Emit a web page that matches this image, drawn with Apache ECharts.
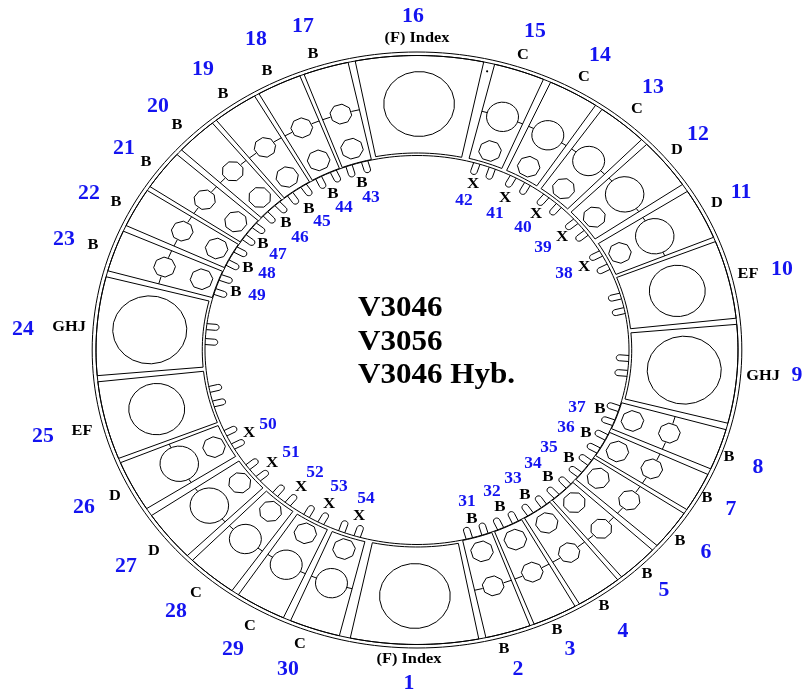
<!DOCTYPE html>
<html>
<head>
<meta charset="utf-8">
<style>html,body{margin:0;padding:0;background:#fff}#c{width:803px;height:693px}</style>
<script src="https://cdn.jsdelivr.net/npm/echarts@6/dist/echarts.min.js"></script>
</head>
<body>
<div id="c"></div>
<script>
// Segment numbers 1..30 and their type
const segmentIds = [1,2,3,4,5,6,7,8,9,10,11,12,13,14,15,16,17,18,19,20,21,22,23,24,25,26,27,28,29,30];
const segmentTypes = ['F','B','B','B','B','B','B','B','GHJ','EF','D','D','C','C','C','F','B','B','B','B','B','B','B','GHJ','EF','D','D','C','C','C'];
// Angular extent of each segment, degrees clockwise from the top
const segmentStart = [168.9,159.4,150.5,141.3,132.8,123.7,115.0,105.7,85.0,68.4,57.4,45.7,35.2,24.6,14.0,-11.1,-20.6,-29.5,-38.7,-47.2,-56.3,-65.0,-74.4,-95.0,-111.6,-122.6,-134.3,-144.8,-155.4,-166.0];
const segmentEnd   = [192.0,167.6,158.6,149.6,140.4,131.6,122.8,113.8,104.4,83.8,67.5,55.8,44.4,33.8,23.2,12.0,-12.4,-21.4,-30.4,-39.6,-48.4,-57.2,-66.2,-75.6,-96.2,-112.5,-124.2,-135.6,-146.2,-156.8];
// Ring radii
const ringRadii = [298, 294.5, 194.5];
// Labels
const outerNumbers = ['16','15','14','13','12','11','10','9','8','7','6','5','4','3','2','1','30','29','28','27','26','25','24','23','22','21','20','19','18','17'];
const outerNumberPos = [[413,17],[535,32],[600,56],[653,88],[698,135],[741,193],[782,270],[797,376],[758,468],[731,510],[706,553],[664,591],[623,632],[570,650],[518,670],[409,684],[288,670],[233,650],[176,612],[126,567],[84,508],[43,437],[23,330],[64,240],[89,194],[124,149],[158,107],[203,70],[256,40],[303,27]];
const outerLetters = ['(F) Index','C','C','C','D','D','EF','GHJ','B','B','B','B','B','B','B','(F) Index','C','C','C','D','D','EF','GHJ','B','B','B','B','B','B','B'];
const outerLetterPos = [[417,38],[523,55],[584,77],[637,109],[677,150],[717,203],[748,274],[763,376],[729,457],[707,498],[680,541],[647,574],[604,606],[557,630],[504,649],[409,659],[300,644],[250,626],[196,593],[154,551],[115,496],[82,431],[69,327],[93,245],[116,202],[146,162],[177,125],[223,94],[267,71],[313,54]];
const innerNumbers = ['31','32','33','34','35','36','37','38','39','40','41','42','43','44','45','46','47','48','49','50','51','52','53','54'];
const innerNumberPos = [[467,502],[492,492],[513,479],[533,464],[549,448],[566,428],[577,408],[564,274],[543,248],[523,228],[495,214],[464,201],[371,198],[344,208],[322,222],[300,238],[278,255],[267,274],[257,296],[268,425],[291,453],[315,473],[339,487],[366,499]];
const innerLetters = ['B','B','B','B','B','B','B','X','X','X','X','X','B','B','B','B','B','B','B','X','X','X','X','X'];
const innerLetterPos = [[472,519],[500,507],[525,495],[548,477],[569,458],[586,433],[600,409],[584,267],[562,237],[536,214],[505,198],[473,184],[362,183],[333,194],[309,209],[286,223],[263,244],[248,268],[236,292],[249,433],[272,463],[301,487],[329,504],[359,516]];
const centerTitles = ['V3046','V3056','V3046 Hyb.'];
const centerTitlePos = [[358,309],[358,343],[358,376]];
const dotPoint = [[13,286]];

const bigRadius = {F:32.5, GHJ:34, EF:25.7, D:17.7, C:14.7, B:10};
const innerEdge = {F:197, GHJ:197, EF:197, D:197.5, C:197.5, B:195};
const cx = 417, cy = 350, sx = 1.09;
const rad = d => d*Math.PI/180;
const polar = (a,r) => [cx + sx*r*Math.sin(rad(a)), cy - r*Math.cos(rad(a))];
const mids = segmentStart.map((s,i)=>(s+segmentEnd[i])/2);

function lineStyle(){ return {stroke:'#000', lineWidth:1, fill:null}; }
function arc(api,a0,a1,r){
  const pts=[], n=Math.max(2,Math.ceil(Math.abs(a1-a0)/1.5));
  for(let k=0;k<=n;k++) pts.push(api.coord(polar(a0+(a1-a0)*k/n,r)));
  return pts;
}
function ngon(api,a,R,r,n,rot){
  const c=polar(a,R), pts=[];
  for(let k=0;k<n;k++){
    const t=rad(rot+360*k/n);
    pts.push(api.coord([c[0]+sx*r*Math.sin(t), c[1]-r*Math.cos(t)]));
  }
  return pts;
}
const segData = segmentIds.map((id,i)=>[id,i]);
const base = {coordinateSystem:'cartesian2d', silent:true, animation:false, clip:false, encode:{x:0,y:0}};

const rings = Object.assign({type:'custom', data:ringRadii.map(r=>[r,0]),
  renderItem(p,api){
    const r=ringRadii[p.dataIndex];
    return {type:'polygon', shape:{points:arc(api,0,360,r).slice(0,-1)}, style:lineStyle()};
  }},base);

const segments = Object.assign({type:'custom', data:segData,
  renderItem(p,api){
    const i=p.dataIndex, a0=segmentStart[i], a1=segmentEnd[i];
    const pts=arc(api,a0,a1,294.5).concat(arc(api,a1,a0,innerEdge[segmentTypes[i]]));
    return {type:'polygon', shape:{points:pts}, style:lineStyle()};
  }},base);

const circles = Object.assign({type:'custom', data:segData,
  renderItem(p,api){
    const i=p.dataIndex, t=segmentTypes[i], a=mids[i], ch=[];
    const big = (t==='B') ? 8 : 24;
    ch.push({type:'polygon', shape:{points:ngon(api,a,246,bigRadius[t],big,a+22.5)}, style:lineStyle()});
    if(t==='B'||t==='C'||t==='D'){
      ch.push({type:'polygon', shape:{points:ngon(api,a,210,10.4,8,a+22.5)}, style:lineStyle()});
      const da=bigRadius[t]/246*180/Math.PI;
      [[segmentStart[i],a-da],[segmentEnd[i],a+da]].forEach(([w,e])=>{
        ch.push({type:'polyline', shape:{points:[api.coord(polar(w,246)),api.coord(polar(e,246))]}, style:lineStyle()});
      });
    }
    return {type:'group', children:ch};
  }},base);

const fingers = Object.assign({type:'custom', data:segData,
  renderItem(p,api){
    const i=p.dataIndex;
    if(segmentTypes[i]==='F') return {type:'group',children:[]};
    const a=mids[i], ch=[];
    const d=[Math.sin(rad(a)),Math.cos(rad(a))], n=[d[1],-d[0]];
    [-2.2,2.2].forEach(off=>{
      const b=rad(a+off), bx=194.5*Math.sin(b), by=194.5*Math.cos(b), w=3, L=8.5, pts=[];
      const P=(u,v)=>api.coord([cx+sx*(bx-u*d[0]+v*n[0]), cy-(by-u*d[1]+v*n[1])]);
      pts.push(P(0,-w));
      pts.push(P(L,-w));
      for(let k=1;k<8;k++){const t=Math.PI*k/8; pts.push(P(L+w*Math.sin(t),-w*Math.cos(t)));}
      pts.push(P(L,w));
      pts.push(P(0,w));
      ch.push({type:'polyline', shape:{points:pts}, style:lineStyle()});
    });
    return {type:'group', children:ch};
  }},base);

function textSeries(texts,positions,size,color,align){
  return Object.assign({type:'custom', data:positions.map(q=>[q[0],q[1]]),
    renderItem(p,api){
      const c=api.coord([api.value(0),api.value(1)]);
      return {type:'text', x:c[0], y:c[1], scaleX:sx, style:{
        text:texts[p.dataIndex], fill:color,
        font:'bold '+size+'px "Liberation Serif"',
        textAlign:align||'center', textVerticalAlign:'middle'}};
    }},base);
}
const dot = Object.assign({type:'custom', data:[[0,0]],
  renderItem(p,api){
    const c=api.coord(polar(dotPoint[0][0],dotPoint[0][1]));
    return {type:'circle', shape:{cx:c[0],cy:c[1],r:1.1}, style:{fill:'#000'}};
  }},base);

const chart = echarts.init(document.getElementById('c'),null,{renderer:'canvas'});
chart.setOption({
  animation:false, backgroundColor:'#fff',
  grid:{left:0,right:0,top:0,bottom:0},
  xAxis:{type:'value',min:0,max:803,show:false},
  yAxis:{type:'value',min:0,max:693,inverse:true,show:false},
  series:[
    fingers, rings, segments, circles, dot,
    textSeries(outerNumbers,outerNumberPos,20,'#1414f0'),
    textSeries(innerNumbers,innerNumberPos,16,'#1414f0'),
    textSeries(outerLetters,outerLetterPos,15,'#000'),
    textSeries(innerLetters,innerLetterPos,15.5,'#000'),
    textSeries(centerTitles,centerTitlePos,28.5,'#000','left')
  ]
});
</script>
</body>
</html>
